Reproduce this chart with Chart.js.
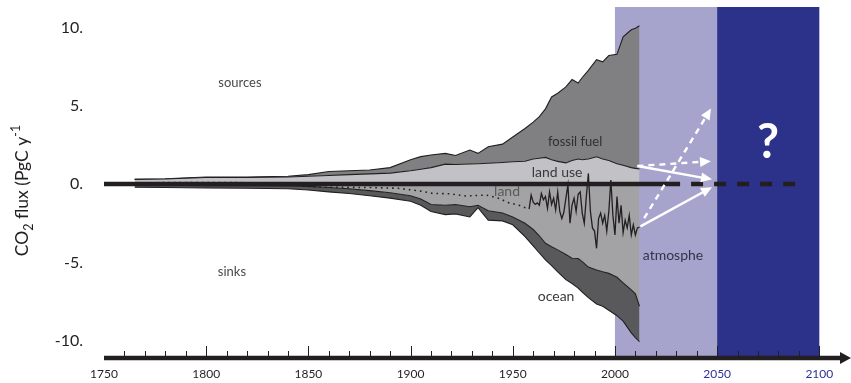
<!DOCTYPE html>
<html lang="en">
<head>
  <meta charset="UTF-8">
  <title>CO2 flux budget</title>
  <script src="https://cdn.jsdelivr.net/npm/chart.js@4.4.0/dist/chart.umd.min.js"></script>
  <style>
    html, body { margin: 0; padding: 0; background: #ffffff; }
    #wrap { width: 851px; height: 383px; }
  </style>
</head>
<body>
  <div id="wrap"><canvas id="fluxChart" width="851" height="383"></canvas></div>

  <script>
    // smooth budget components (PgC per year), sources up, sinks down
    const years = [1765, 1780, 1800, 1820, 1840, 1850, 1860, 1870, 1880, 1890,
                   1900, 1905, 1910, 1917, 1922, 1929, 1933, 1938, 1945, 1950,
                   1956, 1960, 1963, 1966, 1969, 1972, 1976, 1979, 1982, 1984,
                   1987, 1991, 1994, 1997, 2001, 2004, 2008, 2010, 2012];
    const landUse = [0.3, 0.32, 0.42, 0.42, 0.45, 0.5, 0.55, 0.6, 0.65, 0.7,
                     0.85, 0.95, 1.05, 1.27, 1.25, 1.28, 1.3, 1.33, 1.38, 1.42,
                     1.46, 1.6, 1.65, 1.7, 1.55, 1.45, 1.35, 1.5, 1.6, 1.55,
                     1.6, 1.74, 1.6, 1.5, 1.3, 1.2, 1.05, 1.0, 0.96];
    const fossilFuel = [0, 0.01, 0.03, 0.03, 0.05, 0.1, 0.25, 0.25, 0.25, 0.35,
                        0.7, 0.8, 0.8, 0.69, 0.57, 0.89, 0.66, 1.05, 1.17, 1.58,
                        2.09, 2.35, 2.65, 3.1, 4.01, 4.35, 4.85, 5.17, 4.85, 5.25,
                        5.66, 6.2, 6.2, 6.7, 6.98, 8.2, 8.8, 8.95, 9.14];
    // land + atmosphere together, then the ocean below it
    const landAtmSink = [-0.08, -0.08, -0.1, -0.1, -0.12, -0.15, -0.22, -0.3, -0.42, -0.55,
                         -0.75, -0.95, -1.3, -1.35, -1.3, -1.45, -1.35, -1.7, -1.85, -2.1,
                         -2.5, -2.9, -3.3, -3.78, -4.0, -4.2, -4.5, -4.73, -4.75, -4.95,
                         -5.3, -5.48, -5.6, -5.7, -5.95, -6.3, -6.75, -7.0, -7.8];
    const oceanSink = [-0.12, -0.14, -0.15, -0.17, -0.18, -0.23, -0.28, -0.3, -0.33, -0.35,
                       -0.35, -0.4, -0.45, -0.6, -0.6, -0.65, -0.15, -0.6, -0.5, -0.5,
                       -0.86, -1.05, -1.1, -1.06, -1.2, -1.4, -1.6, -1.62, -1.89, -1.95,
                       -1.95, -2.17, -2.2, -2.35, -2.45, -2.45, -2.75, -2.8, -2.25];

    // land sink boundary: reconstructed (dotted) then annual
    const dottedYears = [1765, 1780, 1815, 1835, 1855, 1880, 1894, 1905, 1911, 1919,
                         1927, 1937, 1943, 1948, 1953, 1958];
    const dottedLand = [0.05, 0.1, 0.1, 0, -0.2, -0.22, -0.27, -0.45, -0.6, -0.62,
                        -0.76, -0.7, -0.9, -1.19, -1.35, -1.6];
    const annualStart = 1958;
    const annualLand = [-1.6, -0.7, -1.15, -1.3, -1.2, -1.35, -0.6, -1.0, -0.8, -1.55,   // 1958-67
                        -0.5, -1.3, -0.9, -1.65, -0.5, -1.75, -2.2, -1.8, -0.9, -0.05,    // 1968-77
                        -2.5, -1.35, -0.9, -1.75, -0.65, -0.5, -1.85, -2.5, -0.8, 0.68,   // 1978-87
                        -1.75, -2.8, -3.0, -4.1, -2.2, -1.85, -2.5, -2.0, -3.0, -1.75,    // 1988-97
                        0.25, -2.0, -3.25, -0.8, -2.5, -1.35, -3.1, -2.3, -2.8, -2.0,     // 1998-07
                        -3.25, -2.6, -3.25, -2.8, -2.75];                                  // 2008-12

    const zeroSolidYears = [1750, 2026];
    const zeroDashedYears = [2026, 2092];

    const xTickYears = [1750, 1800, 1850, 1900, 1950, 2000, 2050, 2100];
    const xTickLabels = ['1750', '1800', '1850', '1900', '1950', '2000', '2050', '2100'];
    const yTickValues = [10, 5, 0, -5, -10];
    const yTickLabels = ['10.', '5.', '0.', '-5.', '-10.'];

    const bands = [
      { from: 2000, to: 2050, color: '#a6a4cd' },
      { from: 2050, to: 2100, color: '#2c3189' }
    ];

    const notes = [
      { text: 'sources', x: 1816.5, y: 6.45, size: 13, color: '#4a4a4a' },
      { text: 'sinks', x: 1812.6, y: -5.6, size: 13, color: '#4a4a4a' },
      { text: 'fossil fuel', x: 1980.5, y: 2.68, size: 13, color: '#2f2f2f' },
      { text: 'land use', x: 1971.7, y: 0.77, size: 14, color: '#3a3a3a' },
      { text: 'land', x: 1947.2, y: -0.45, size: 14, color: '#5a5a5a' },
      { text: 'ocean', x: 1971.2, y: -7.2, size: 14, color: '#3a3a3a' },
      { text: 'atmosphe', x: 2028.4, y: -4.53, size: 14, color: '#33334a' },
      { text: '?', x: 2074.9, y: 2.68, size: 48, color: '#ffffff', weight: 'bold' }
    ];

    const arrows = [
      { from: [2011, 1.15], to: [2047.5, 0.3], dashed: false },
      { from: [2012.5, -2.7], to: [2047.5, -0.2], dashed: false },
      { from: [2011, 1.15], to: [2047, 1.46], dashed: true },
      { from: [2014.3, -2.18], to: [2047, 4.82], dashed: true }
    ];

    const FONT = 'Lato, "Open Sans", sans-serif';
    const xy = (xs, ys) => xs.map((x, i) => ({ x: x, y: ys[i] }));
    const sourceTop = landUse.map((v, i) => v + fossilFuel[i]);
    const sinkBottom = landAtmSink.map((v, i) => v + oceanSink[i]);
    const annualYears = annualLand.map((v, i) => annualStart + i);

    // bands, labels, arrows, own x axis and y title
    const decorPlugin = {
      id: 'decor',
      beforeDatasetsDraw(chart) {
        const { ctx, chartArea, scales } = chart;
        ctx.save();
        bands.forEach(b => {
          const x0 = scales.x.getPixelForValue(b.from);
          const x1 = scales.x.getPixelForValue(b.to);
          ctx.fillStyle = b.color;
          ctx.fillRect(x0, chartArea.top, x1 - x0, chartArea.bottom - 2 - chartArea.top);
        });
        ctx.restore();
      },
      afterDatasetsDraw(chart) {
        const { ctx, chartArea, scales } = chart;
        const xs = scales.x, ys = scales.y;
        ctx.save();

        // text notes
        ctx.textAlign = 'center';
        ctx.textBaseline = 'middle';
        notes.forEach(n => {
          ctx.font = (n.weight || 'normal') + ' ' + n.size + 'px ' + FONT;
          ctx.fillStyle = n.color;
          ctx.fillText(n.text, xs.getPixelForValue(n.x), ys.getPixelForValue(n.y));
        });

        // white arrows
        ctx.strokeStyle = '#ffffff';
        ctx.fillStyle = '#ffffff';
        ctx.lineWidth = 2.4;
        arrows.forEach(a => {
          const x0 = xs.getPixelForValue(a.from[0]), y0 = ys.getPixelForValue(a.from[1]);
          const x1 = xs.getPixelForValue(a.to[0]), y1 = ys.getPixelForValue(a.to[1]);
          const ang = Math.atan2(y1 - y0, x1 - x0);
          const head = 11;
          ctx.setLineDash(a.dashed ? [6, 5] : []);
          ctx.beginPath();
          ctx.moveTo(x0, y0);
          ctx.lineTo(x1 - Math.cos(ang) * head * 0.8, y1 - Math.sin(ang) * head * 0.8);
          ctx.stroke();
          ctx.setLineDash([]);
          ctx.beginPath();
          ctx.moveTo(x1, y1);
          ctx.lineTo(x1 - head * Math.cos(ang) + 5 * Math.sin(ang), y1 - head * Math.sin(ang) - 5 * Math.cos(ang));
          ctx.lineTo(x1 - head * Math.cos(ang) - 5 * Math.sin(ang), y1 - head * Math.sin(ang) + 5 * Math.cos(ang));
          ctx.closePath();
          ctx.fill();
        });

        // x axis line with arrow head
        const ay = chartArea.bottom;
        ctx.strokeStyle = '#231f20';
        ctx.fillStyle = '#231f20';
        ctx.lineWidth = 4.5;
        ctx.beginPath();
        ctx.moveTo(chartArea.left, ay);
        ctx.lineTo(chartArea.right - 8, ay);
        ctx.stroke();
        ctx.beginPath();
        ctx.moveTo(chartArea.right, ay);
        ctx.lineTo(chartArea.right - 11, ay - 6);
        ctx.lineTo(chartArea.right - 11, ay + 6);
        ctx.closePath();
        ctx.fill();

        // tick marks every ten years, taller every fifty
        ctx.lineWidth = 1;
        for (let yr = 1760; yr <= 2100; yr += 10) {
          const px = Math.round(xs.getPixelForValue(yr)) + 0.5;
          const len = yr % 50 === 0 ? 10 : 5;
          ctx.beginPath();
          ctx.moveTo(px, ay - 2);
          ctx.lineTo(px, ay - 2 - len);
          ctx.stroke();
        }

        // rotated y title with sub and superscript
        const parts = [
          { t: 'CO', size: 17.5, dy: 0 },
          { t: '2', size: 12.5, dy: 5 },
          { t: ' flux (PgC y', size: 17.5, dy: 0 },
          { t: '-1', size: 12.5, dy: -8 }
        ];
        let total = 0;
        parts.forEach(p => {
          ctx.font = p.size + 'px ' + FONT;
          p.w = ctx.measureText(p.t).width;
          total += p.w;
        });
        ctx.translate(22, (chartArea.top + chartArea.bottom) / 2 + 8);
        ctx.rotate(-Math.PI / 2);
        ctx.textAlign = 'left';
        ctx.textBaseline = 'alphabetic';
        ctx.fillStyle = '#231f20';
        let cx = -total / 2;
        parts.forEach(p => {
          ctx.font = p.size + 'px ' + FONT;
          ctx.fillText(p.t, cx, 6 + p.dy);
          cx += p.w;
        });
        ctx.restore();
      }
    };

    const areaLine = { pointRadius: 0, borderColor: '#231f20', borderWidth: 1.1, tension: 0 };

    new Chart(document.getElementById('fluxChart').getContext('2d'), {
      type: 'line',
      data: {
        datasets: [
          Object.assign({ label: 'land use', data: xy(years, landUse), fill: 'origin',
            backgroundColor: '#c2c2c6', order: 3 }, areaLine),
          Object.assign({ label: 'fossil fuel', data: xy(years, sourceTop), fill: '-1',
            backgroundColor: '#808082', order: 3 }, areaLine),
          Object.assign({ label: 'land + atmosphere', data: xy(years, landAtmSink), fill: 'origin',
            backgroundColor: '#a3a3a5', order: 3 }, areaLine),
          Object.assign({ label: 'ocean', data: xy(years, sinkBottom), fill: '-1',
            backgroundColor: '#59595b', order: 3 }, areaLine),
          { label: 'land sink', data: xy(annualYears, annualLand), pointRadius: 0,
            borderColor: '#231f20', borderWidth: 1.3, tension: 0, fill: false, order: 1 },
          { label: 'land sink (reconstructed)', data: xy(dottedYears, dottedLand), pointRadius: 0,
            borderColor: '#231f20', borderWidth: 1.6, borderDash: [1.6, 4], tension: 0, fill: false, order: 1 },
          { label: 'zero', data: zeroSolidYears.map(x => ({ x: x, y: 0 })), pointRadius: 0,
            borderColor: '#231f20', borderWidth: 4.5, fill: false, order: 0 },
          { label: 'zero future', data: zeroDashedYears.map(x => ({ x: x, y: 0 })), pointRadius: 0,
            borderColor: '#231f20', borderWidth: 4.5, borderDash: [12, 11], fill: false, order: 0 }
        ]
      },
      options: {
        responsive: false,
        animation: false,
        devicePixelRatio: 1,
        layout: { padding: { top: 7, left: 0, right: 0, bottom: 0 } },
        plugins: {
          legend: { display: false },
          tooltip: { enabled: false }
        },
        scales: {
          x: {
            type: 'linear',
            min: 1750,
            max: 2115.5,
            grid: { display: false },
            border: { display: false },
            afterFit: s => { s.height = 25; s.paddingLeft = 0; s.paddingRight = 0; },
            afterBuildTicks: s => { s.ticks = xTickYears.map(v => ({ value: v })); },
            ticks: {
              autoSkip: false,
              maxRotation: 0,
              padding: 1,
              font: { family: FONT, size: 12 },
              color: c => (c.tick && c.tick.value >= 2050 ? '#2e3192' : '#231f20'),
              callback: v => xTickLabels[xTickYears.indexOf(v)]
            }
          },
          y: {
            type: 'linear',
            min: -11.1,
            max: 11.3,
            grid: { display: false },
            border: { display: false },
            afterFit: s => { s.width = 104; s.paddingTop = 0; s.paddingBottom = 0; },
            afterBuildTicks: s => { s.ticks = yTickValues.map(v => ({ value: v })); },
            ticks: {
              padding: 13,
              font: { family: FONT, size: 16 },
              color: '#231f20',
              callback: v => yTickLabels[yTickValues.indexOf(v)]
            }
          }
        }
      },
      plugins: [decorPlugin]
    });
  </script>
</body>
</html>
